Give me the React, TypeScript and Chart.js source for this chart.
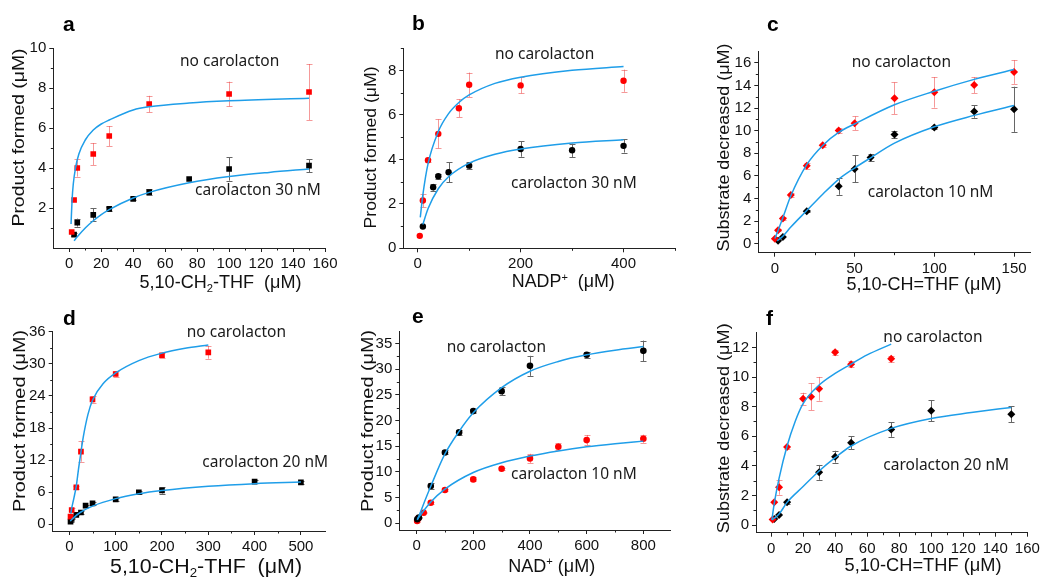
import React, { useEffect, useRef } from 'react';
import { Chart, registerables } from 'chart.js';

Chart.register(...registerables);

const RED = '#ff0000';
const BLACK = '#000000';
const BLUE = '#1f9ee9';
const RED_ERR = 'rgba(236,70,70,0.55)';
const BLACK_ERR = '#666666';
const AXIS = '#222222';
const FONT = "'Liberation Sans', Arial, Helvetica, sans-serif";
const NOTE_FONT = "'Noto Sans', 'Open Sans', sans-serif";

// ---------- panel a ----------
const aNoX = [1.5, 3, 5, 15, 25, 50, 100, 150];
const aNoY = [0.8, 2.4, 4.0, 4.7, 5.6, 7.2, 7.7, 7.8];
const aNoErr = [0.05, 0.05, 0.43, 0.55, 0.5, 0.41, 0.62, 1.4];
const aCaroX = [3, 5, 15, 25, 40, 50, 75, 100, 150];
const aCaroY = [0.67, 1.27, 1.66, 1.96, 2.46, 2.79, 3.45, 3.95, 4.12];
const aCaroErr = [0.08, 0.2, 0.33, 0.1, 0.08, 0.15, 0.05, 0.58, 0.33];
const aFitNoX = [1.1, 1.75, 2.5, 3.9, 6, 10, 15, 20, 25, 40, 50, 75, 100, 150];
const aFitNoY = [1.2, 2.4, 3.2, 4.0, 4.7, 5.4, 5.9, 6.2, 6.4, 6.9, 7.06, 7.25, 7.36, 7.49];
const aFitCaroX = [3, 5, 10, 15, 20, 25, 40, 50, 75, 100, 125, 150];
const aFitCaroY = [0.36, 0.56, 1.0, 1.36, 1.67, 1.92, 2.5, 2.78, 3.26, 3.57, 3.78, 3.95];

// ---------- panel b ----------
const bNoX = [4, 10, 20, 40, 80, 100, 200, 400];
const bNoY = [0.56, 2.15, 3.96, 5.15, 6.3, 7.36, 7.33, 7.54];
const bNoErr = [0.05, 0.3, 0.08, 0.65, 0.4, 0.55, 0.36, 0.5];
const bCaroX = [10, 30, 40, 60, 100, 200, 300, 400];
const bCaroY = [0.98, 2.75, 3.24, 3.42, 3.72, 4.47, 4.41, 4.61];
const bCaroErr = [0.05, 0.15, 0.1, 0.45, 0.15, 0.35, 0.3, 0.3];
const bFitNoX = [5, 10, 20, 40, 60, 80, 100, 150, 200, 300, 400];
const bFitNoY = [1.39, 2.4, 3.8, 5.25, 6.06, 6.56, 6.9, 7.42, 7.7, 8.01, 8.18];
const bFitCaroX = [10, 20, 40, 60, 100, 150, 200, 300, 400];
const bFitCaroY = [1.07, 1.78, 2.68, 3.22, 3.83, 4.23, 4.47, 4.74, 4.88];

// ---------- panel c ----------
const cNoX = [0, 2, 5, 10, 20, 30, 40, 50, 75, 100, 125, 150];
const cNoY = [0.43, 1.19, 2.23, 4.3, 6.9, 8.72, 10.03, 10.67, 12.88, 13.4, 14.04, 15.2];
const cNoErr = [0.05, 0.1, 0.1, 0.2, 0.25, 0.15, 0.2, 0.6, 1.4, 1.35, 0.7, 1.05];
const cCaroX = [2, 5, 20, 40, 50, 60, 75, 100, 125, 150];
const cCaroY = [0.25, 0.6, 2.87, 5.08, 6.62, 7.64, 9.67, 10.28, 11.7, 11.9];
const cCaroErr = [0.05, 0.05, 0.1, 0.75, 1.2, 0.3, 0.3, 0.1, 0.55, 2.0];
const cFitNoX = [0, 2, 5, 10, 20, 30, 40, 50, 75, 100, 125, 150];
const cFitNoY = [0.45, 1.17, 2.3, 4.24, 7.0, 8.7, 9.85, 10.6, 12.3, 13.5, 14.55, 15.43];
const cFitCaroX = [1.5, 5, 10, 20, 30, 40, 50, 60, 75, 100, 125, 150];
const cFitCaroY = [0.25, 0.66, 1.47, 2.93, 4.38, 5.7, 6.7, 7.6, 8.9, 10.35, 11.36, 12.24];

// ---------- panel d ----------
const dNoX = [2.5, 5, 15, 25, 50, 100, 200, 300];
const dNoY = [1.43, 2.68, 6.9, 13.6, 23.36, 28.1, 31.6, 32.15];
const dNoErr = [0.2, 0.3, 0.3, 1.9, 0.6, 0.5, 0.5, 1.2];
const dCaroX = [2.5, 5, 15, 25, 35, 50, 100, 150, 200, 400, 500];
const dCaroY = [0.5, 1.1, 1.75, 2.2, 3.5, 3.9, 4.67, 6.0, 6.35, 7.97, 7.85];
const dCaroErr = [0.1, 0.1, 0.1, 0.2, 0.2, 0.2, 0.3, 0.3, 0.6, 0.3, 0.3];
const dFitNoX = [3, 5, 10, 15, 20, 25, 30, 40, 50, 75, 100, 150, 200, 250, 300];
const dFitNoY = [2.0, 3.0, 5.0, 7.2, 10.5, 13.5, 16.3, 20.5, 23.2, 26.5, 28.3, 30.6, 32.0, 32.9, 33.5];
const dFitCaroX = [2, 10, 25, 50, 100, 150, 200, 300, 400, 500];
const dFitCaroY = [0.6, 1.3, 2.3, 3.4, 4.8, 5.7, 6.3, 7.1, 7.6, 7.9];

// ---------- panel e ----------
const eNoX = [2.5, 8, 50, 100, 150, 200, 300, 400, 600, 800];
const eNoY = [0.78, 1.1, 7.26, 13.8, 17.7, 21.84, 25.73, 30.65, 32.8, 33.57];
const eNoErr = [0.1, 0.1, 0.5, 0.4, 0.45, 0.4, 0.8, 1.95, 0.55, 2.0];
const eCaroX = [2, 6, 25, 50, 100, 200, 300, 400, 500, 600, 800];
const eCaroY = [0.45, 1.0, 2.07, 4.0, 6.5, 8.55, 10.63, 12.64, 14.9, 16.2, 16.46];
const eCaroErr = [0.1, 0.1, 0.1, 0.15, 0.15, 0.4, 0.2, 0.9, 0.7, 1.0, 0.8];
const eFitNoX = [2.5, 50, 100, 150, 200, 300, 400, 500, 600, 700, 800];
const eFitNoY = [0.65, 7.2, 13.5, 17.9, 21.5, 26.4, 29.6, 31.5, 32.8, 33.7, 34.4];
const eFitCaroX = [2.5, 50, 100, 200, 300, 400, 500, 600, 700, 800];
const eFitCaroY = [0.8, 4.15, 6.67, 9.9, 11.8, 13.1, 14.1, 14.9, 15.5, 16.0];

// ---------- panel f ----------
const fNoX = [1, 2, 5, 10, 20, 25, 30, 40, 50, 75];
const fNoY = [0.38, 1.53, 2.55, 5.27, 8.54, 8.67, 9.21, 11.67, 10.86, 11.24];
const fNoErr = [0.05, 0.05, 0.5, 0.1, 0.4, 0.9, 0.8, 0.15, 0.2, 0.2];
const fCaroX = [2, 5, 10, 30, 40, 50, 75, 100, 150];
const fCaroY = [0.4, 0.68, 1.53, 3.56, 4.62, 5.56, 6.46, 7.73, 7.48];
const fCaroErr = [0.05, 0.05, 0.1, 0.5, 0.4, 0.45, 0.5, 0.7, 0.55];
const fFitNoX = [0.5, 2, 5, 10, 15, 20, 30, 40, 50, 60, 75];
const fFitNoY = [0.34, 1.46, 3.15, 5.34, 6.98, 8.2, 9.46, 10.25, 10.88, 11.5, 12.23];
const fFitCaroX = [0.5, 5, 10, 20, 30, 40, 50, 75, 100, 125, 150];
const fFitCaroY = [0.34, 0.74, 1.53, 2.6, 3.65, 4.55, 5.34, 6.53, 7.2, 7.6, 7.95];

// ---------- tick values ----------
const aXMajor = [0, 20, 40, 60, 80, 100, 120, 140, 160];
const aXMinor = [10, 30, 50, 70, 90, 110, 130, 150];
const aYMajor = [2, 4, 6, 8, 10];
const aYMinor = [1, 3, 5, 7, 9];
const bXMajor = [0, 200, 400];
const bXMinor = [100, 300, 500];
const bYMajor = [0, 2, 4, 6, 8];
const bYMinor = [1, 3, 5, 7, 9];
const cXMajor = [0, 50, 100, 150];
const cXMinor = [25, 75, 125];
const cYMajor = [0, 2, 4, 6, 8, 10, 12, 14, 16];
const cYMinor = [1, 3, 5, 7, 9, 11, 13, 15];
const dXMajor = [0, 100, 200, 300, 400, 500];
const dXMinor = [50, 150, 250, 350, 450];
const dYMajor = [0, 6, 12, 18, 24, 30, 36];
const dYMinor = [3, 9, 15, 21, 27, 33];
const eXMajor = [0, 200, 400, 600, 800];
const eXMinor = [100, 300, 500, 700];
const eYMajor = [0, 5, 10, 15, 20, 25, 30, 35];
const eYMinor = [2.5, 7.5, 12.5, 17.5, 22.5, 27.5, 32.5];
const fXMajor = [0, 20, 40, 60, 80, 100, 120, 140, 160];
const fXMinor = [10, 30, 50, 70, 90, 110, 130, 150];
const fYMajor = [0, 2, 4, 6, 8, 10, 12];
const fYMinor = [1, 3, 5, 7, 9, 11];

// ---------- texts ----------
const NO_CARO = 'no carolacton';
const CARO10 = 'carolacton 10 nM';
const CARO20 = 'carolacton 20 nM';
const CARO30 = 'carolacton 30 nM';
const Y_PRODUCT = 'Product formed (μM)';
const Y_SUBSTRATE = 'Substrate decreased (μM)';

type Seg = { t: string; sub?: boolean; sup?: boolean };
const X_CH2THF: Seg[] = [{ t: '5,10-CH' }, { t: '2', sub: true }, { t: '-THF  (μM)' }];
const X_NADP: Seg[] = [{ t: 'NADP' }, { t: '+', sup: true }, { t: '  (μM)' }];
const X_NAD: Seg[] = [{ t: 'NAD' }, { t: '+', sup: true }, { t: ' (μM)' }];
const X_CHTHF: Seg[] = [{ t: '5,10-CH=THF (μM)' }];

type PointSeries = { x: number[]; y: number[]; err: number[]; color: string; errColor: string; style: string; radius: number };
type FitSeries = { x: number[]; y: number[] };
type Note = { text: string; left: number; base: number };
type Panel = {
  letter: string;
  letterPos: [number, number];
  box: [number, number, number, number];
  area: [number, number, number, number];
  xRange: [number, number];
  yRange: [number, number];
  xMajor: number[]; xMinor: number[]; yMajor: number[]; yMinor: number[];
  xTitle: Seg[]; xTitleAt: [number, number, number, number]; // cx, cy, size, width
  yTitle: string; yTitleAt: [number, number, number, number];
  points: PointSeries[];
  fits: FitSeries[];
  notes: Note[];
};

const PANELS: Panel[] = [
  {
    letter: 'a', letterPos: [63, 31], box: [0, 0, 345, 300], area: [53.3, 48, 325, 248],
    xRange: [-10, 160], yRange: [0, 10],
    xMajor: aXMajor, xMinor: aXMinor, yMajor: aYMajor, yMinor: aYMinor,
    xTitle: X_CH2THF, xTitleAt: [220.5, 282, 18, 162],
    yTitle: Y_PRODUCT, yTitleAt: [18.5, 137.5, 16.5, 178],
    points: [
      { x: aNoX, y: aNoY, err: aNoErr, color: RED, errColor: RED_ERR, style: 'rect', radius: 4 },
      { x: aCaroX, y: aCaroY, err: aCaroErr, color: BLACK, errColor: BLACK_ERR, style: 'rect', radius: 4 },
    ],
    fits: [{ x: aFitNoX, y: aFitNoY }, { x: aFitCaroX, y: aFitCaroY }],
    notes: [{ text: NO_CARO, left: 180, base: 65.7 }, { text: CARO30, left: 195, base: 195 }],
  },
  {
    letter: 'b', letterPos: [412, 30], box: [345, 0, 350, 300], area: [403.3, 48.3, 675, 248.3],
    xRange: [-28, 500], yRange: [0, 9],
    xMajor: bXMajor, xMinor: bXMinor, yMajor: bYMajor, yMinor: bYMinor,
    xTitle: X_NADP, xTitleAt: [563.3, 281, 17.5, 103],
    yTitle: Y_PRODUCT, yTitleAt: [370, 147.5, 16, 162],
    points: [
      { x: bNoX, y: bNoY, err: bNoErr, color: RED, errColor: RED_ERR, style: 'circle', radius: 3.2 },
      { x: bCaroX, y: bCaroY, err: bCaroErr, color: BLACK, errColor: BLACK_ERR, style: 'circle', radius: 3.2 },
    ],
    fits: [{ x: bFitNoX, y: bFitNoY }, { x: bFitCaroX, y: bFitCaroY }],
    notes: [{ text: NO_CARO, left: 495, base: 59 }, { text: CARO30, left: 511, base: 188 }],
  },
  {
    letter: 'c', letterPos: [767, 31], box: [695, 0, 352, 300], area: [758.3, 51.7, 1030, 252.7],
    xRange: [-10.4, 160], yRange: [-0.8, 17],
    xMajor: cXMajor, xMinor: cXMinor, yMajor: cYMajor, yMinor: cYMinor,
    xTitle: X_CHTHF, xTitleAt: [924, 284, 18, 155],
    yTitle: Y_SUBSTRATE, yTitleAt: [723, 147.5, 16.5, 208],
    points: [
      { x: cNoX, y: cNoY, err: cNoErr, color: RED, errColor: RED_ERR, style: 'rectRot', radius: 4 },
      { x: cCaroX, y: cCaroY, err: cCaroErr, color: BLACK, errColor: BLACK_ERR, style: 'rectRot', radius: 4 },
    ],
    fits: [{ x: cFitNoX, y: cFitNoY }, { x: cFitCaroX, y: cFitCaroY }],
    notes: [{ text: NO_CARO, left: 851.7, base: 66.5 }, { text: CARO10, left: 867.7, base: 196.5 }],
  },
  {
    letter: 'd', letterPos: [63, 325], box: [0, 290, 345, 287], area: [52.7, 331.7, 325, 531],
    xRange: [-36, 552], yRange: [-1.25, 36],
    xMajor: dXMajor, xMinor: dXMinor, yMajor: dYMajor, yMinor: dYMinor,
    xTitle: X_CH2THF, xTitleAt: [206, 566, 20, 192],
    yTitle: Y_PRODUCT, yTitleAt: [18.8, 421, 16.5, 182],
    points: [
      { x: dNoX, y: dNoY, err: dNoErr, color: RED, errColor: RED_ERR, style: 'rect', radius: 4 },
      { x: dCaroX, y: dCaroY, err: dCaroErr, color: BLACK, errColor: BLACK_ERR, style: 'rect', radius: 4 },
    ],
    fits: [{ x: dFitNoX, y: dFitNoY }, { x: dFitCaroX, y: dFitCaroY }],
    notes: [{ text: NO_CARO, left: 186.7, base: 337 }, { text: CARO20, left: 202.3, base: 467 }],
  },
  {
    letter: 'e', letterPos: [412, 323], box: [345, 290, 350, 287], area: [399.3, 331.7, 670, 530],
    xRange: [-61, 894], yRange: [-1.3, 37.3],
    xMajor: eXMajor, xMinor: eXMinor, yMajor: eYMajor, yMinor: eYMinor,
    xTitle: X_NAD, xTitleAt: [551.7, 565.5, 17.5, 87],
    yTitle: Y_PRODUCT, yTitleAt: [366.7, 421, 16.5, 182],
    points: [
      { x: eNoX, y: eNoY, err: eNoErr, color: BLACK, errColor: BLACK_ERR, style: 'circle', radius: 3.3 },
      { x: eCaroX, y: eCaroY, err: eCaroErr, color: RED, errColor: RED_ERR, style: 'circle', radius: 3.3 },
    ],
    fits: [{ x: eFitNoX, y: eFitNoY }, { x: eFitCaroX, y: eFitCaroY }],
    notes: [{ text: NO_CARO, left: 446.7, base: 352 }, { text: CARO10, left: 511, base: 479 }],
  },
  {
    letter: 'f', letterPos: [766, 325], box: [695, 290, 352, 287], area: [756, 332.7, 1027.3, 532.7],
    xRange: [-9.4, 160], yRange: [-0.52, 13],
    xMajor: fXMajor, xMinor: fXMinor, yMajor: fYMajor, yMinor: fYMinor,
    xTitle: X_CHTHF, xTitleAt: [923, 565, 18, 157],
    yTitle: Y_SUBSTRATE, yTitleAt: [723, 428.3, 16.5, 210],
    points: [
      { x: fNoX, y: fNoY, err: fNoErr, color: RED, errColor: RED_ERR, style: 'rectRot', radius: 4 },
      { x: fCaroX, y: fCaroY, err: fCaroErr, color: BLACK, errColor: BLACK_ERR, style: 'rectRot', radius: 4 },
    ],
    fits: [{ x: fFitNoX, y: fFitNoY }, { x: fFitCaroX, y: fFitCaroY }],
    notes: [{ text: NO_CARO, left: 883.3, base: 342 }, { text: CARO20, left: 883.3, base: 470 }],
  },
];

const Y_AXIS_W = 40;
const X_AXIS_H = 30;

function drawRich(ctx: CanvasRenderingContext2D, segs: Seg[], cx: number, cy: number, size: number, width: number, rotate: boolean) {
  ctx.save();
  ctx.translate(cx, cy);
  if (rotate) ctx.rotate(-Math.PI / 2);
  const parts = segs.map((s) => {
    const fs = s.sub || s.sup ? size * 0.62 : size;
    ctx.font = `${fs}px ${FONT}`;
    return { s, fs, w: ctx.measureText(s.t).width };
  });
  const total = parts.reduce((a, p) => a + p.w, 0);
  const k = width ? width / total : 1;
  ctx.scale(k, 1);
  ctx.fillStyle = '#111111';
  ctx.textAlign = 'left';
  ctx.textBaseline = 'alphabetic';
  let x = -total / 2;
  const base = size * 0.358;
  for (const p of parts) {
    ctx.font = `${p.fs}px ${FONT}`;
    const dy = p.s.sub ? size * 0.2 : p.s.sup ? -size * 0.36 : 0;
    ctx.fillText(p.s.t, x, base + dy);
    x += p.w;
  }
  ctx.restore();
}

function makePlugin(p: Panel) {
  const [bx, by] = p.box;
  return {
    id: 'panelDecor',
    beforeDatasetsDraw(chart: any) {
      const ctx: CanvasRenderingContext2D = chart.ctx;
      const xs = chart.scales.x;
      const ys = chart.scales.y;
      ctx.save();
      ctx.lineWidth = 1;
      for (const s of p.points) {
        ctx.strokeStyle = s.errColor;
        s.x.forEach((xv, i) => {
          const e = s.err[i];
          if (!e || e < 0.06) return;
          const px = Math.round(xs.getPixelForValue(xv)) + 0.5;
          const y1 = ys.getPixelForValue(s.y[i] + e);
          const y2 = ys.getPixelForValue(s.y[i] - e);
          ctx.beginPath();
          ctx.moveTo(px, y1);
          ctx.lineTo(px, y2);
          ctx.moveTo(px - 3, Math.round(y1) + 0.5);
          ctx.lineTo(px + 3, Math.round(y1) + 0.5);
          ctx.moveTo(px - 3, Math.round(y2) + 0.5);
          ctx.lineTo(px + 3, Math.round(y2) + 0.5);
          ctx.stroke();
        });
      }
      ctx.restore();
    },
    afterDraw(chart: any) {
      const ctx: CanvasRenderingContext2D = chart.ctx;
      const xs = chart.scales.x;
      const ys = chart.scales.y;
      const area = chart.chartArea;
      ctx.save();
      ctx.strokeStyle = AXIS;
      ctx.lineWidth = 1;
      ctx.beginPath();
      for (const v of p.xMinor) {
        const px = Math.round(xs.getPixelForValue(v)) + 0.5;
        ctx.moveTo(px, area.bottom);
        ctx.lineTo(px, area.bottom + 2.5);
      }
      for (const v of p.yMinor) {
        const py = Math.round(ys.getPixelForValue(v)) + 0.5;
        ctx.moveTo(area.left - 2.5, py);
        ctx.lineTo(area.left, py);
      }
      ctx.stroke();

      // panel letter
      ctx.fillStyle = '#000000';
      ctx.font = `bold 21px ${FONT}`;
      ctx.textAlign = 'left';
      ctx.textBaseline = 'alphabetic';
      ctx.fillText(p.letter, p.letterPos[0] - bx, p.letterPos[1] - by);

      // notes
      ctx.fillStyle = '#1a1a1a';
      ctx.font = `15.5px ${NOTE_FONT}`;
      for (const n of p.notes) ctx.fillText(n.text, n.left - bx, n.base - by);

      // titles
      const [xcx, xcy, xsz, xw] = p.xTitleAt;
      drawRich(ctx, p.xTitle, xcx - bx, xcy - by, xsz, xw, false);
      const [ycx, ycy, ysz, yw] = p.yTitleAt;
      drawRich(ctx, [{ t: p.yTitle }], ycx - bx, ycy - by, ysz, yw, true);
      ctx.restore();
    },
  };
}

function buildConfig(p: Panel): any {
  const [bx, by, bw, bh] = p.box;
  const [L, T, R, B] = p.area;
  const datasets: any[] = [];
  for (const s of p.points) {
    datasets.push({
      data: s.x.map((x, i) => ({ x, y: s.y[i] })),
      showLine: false,
      pointStyle: s.style,
      pointRadius: s.radius,
      pointBackgroundColor: s.color,
      pointBorderColor: s.color,
      pointBorderWidth: 0,
      order: 2,
    });
  }
  for (const f of p.fits) {
    datasets.push({
      data: f.x.map((x, i) => ({ x, y: f.y[i] })),
      showLine: true,
      pointRadius: 0,
      borderColor: BLUE,
      borderWidth: 1.5,
      cubicInterpolationMode: 'monotone',
      fill: false,
      order: 1,
    });
  }
  const tickFont = { family: FONT, size: 15 };
  return {
    type: 'scatter',
    data: { datasets },
    plugins: [makePlugin(p)],
    options: {
      responsive: false,
      maintainAspectRatio: false,
      devicePixelRatio: 1,
      animation: false,
      events: [],
      layout: {
        padding: {
          left: L - bx - Y_AXIS_W,
          top: T - by,
          right: bx + bw - R,
          bottom: by + bh - B - X_AXIS_H,
        },
      },
      plugins: { legend: { display: false }, tooltip: { enabled: false }, title: { display: false } },
      scales: {
        x: {
          type: 'linear',
          min: p.xRange[0],
          max: p.xRange[1],
          afterBuildTicks: (s: any) => { s.ticks = p.xMajor.map((v) => ({ value: v })); },
          afterFit: (s: any) => { s.height = X_AXIS_H; },
          ticks: { font: tickFont, color: '#111111', padding: 3, maxRotation: 0, autoSkip: false, callback: (v: any) => String(v) },
          grid: { drawOnChartArea: false, drawTicks: true, tickLength: 4, color: AXIS, lineWidth: 1 },
          border: { display: true, color: AXIS, width: 1 },
        },
        y: {
          type: 'linear',
          min: p.yRange[0],
          max: p.yRange[1],
          afterBuildTicks: (s: any) => { s.ticks = p.yMajor.map((v) => ({ value: v })); },
          afterFit: (s: any) => { s.width = Y_AXIS_W; },
          ticks: { font: tickFont, color: '#111111', padding: 3, autoSkip: false, callback: (v: any) => String(v) },
          grid: { drawOnChartArea: false, drawTicks: true, tickLength: 4, color: AXIS, lineWidth: 1 },
          border: { display: true, color: AXIS, width: 1 },
        },
      },
    },
  };
}

function PanelChart({ p }: { p: Panel }) {
  const ref = useRef<HTMLCanvasElement>(null);
  useEffect(() => {
    const canvas = ref.current;
    if (!canvas) return;
    const chart = new Chart(canvas, buildConfig(p));
    return () => chart.destroy();
  }, [p]);
  const [l, t, w, h] = p.box;
  return (
    <canvas
      ref={ref}
      width={w}
      height={h}
      style={{ position: 'absolute', left: l, top: t, width: w, height: h, display: 'block' }}
    />
  );
}

export default function App() {
  return (
    <div style={{ position: 'absolute', left: 0, top: 0, width: 1047, height: 577, background: '#ffffff', overflow: 'hidden' }}>
      {PANELS.map((p) => (
        <PanelChart key={p.letter} p={p} />
      ))}
    </div>
  );
}
